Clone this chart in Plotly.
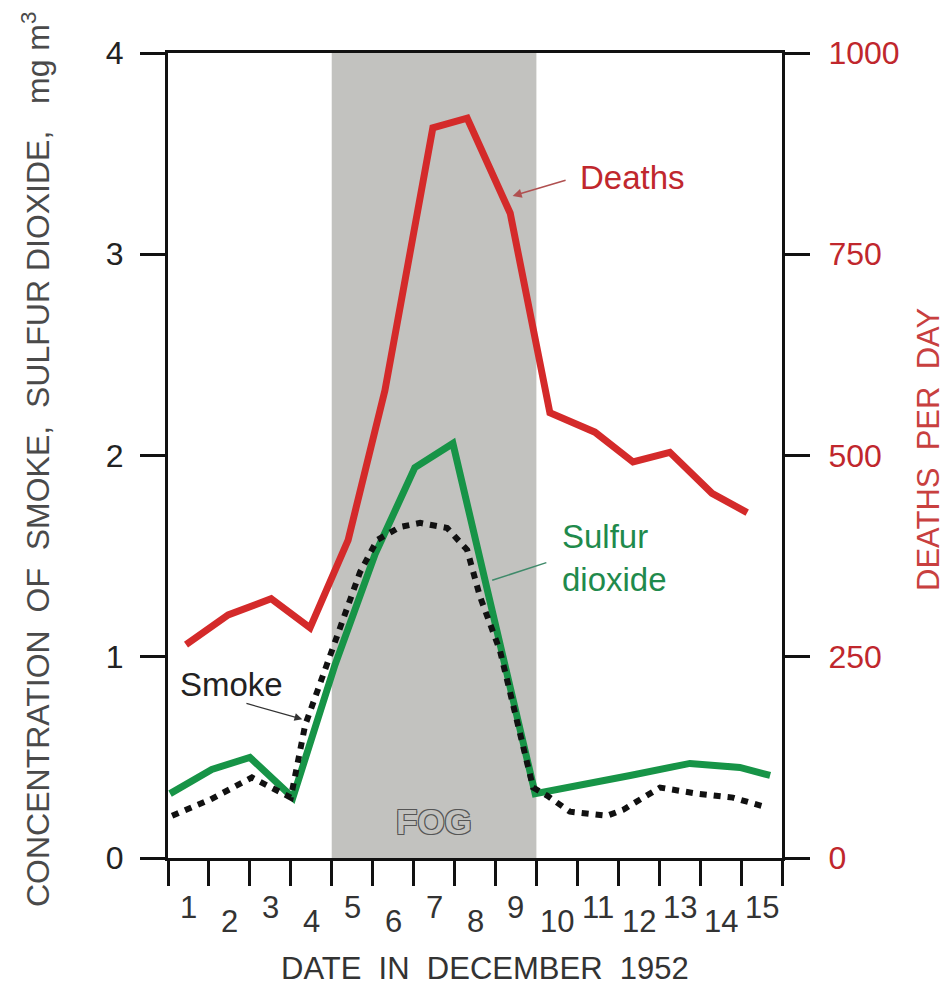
import plotly.graph_objects as go

# ---- data ----
days = list(range(1, 16))
day_labels = [str(d) for d in days]
day_edges = [d - 0.5 for d in range(1, 17)]
fog_start, fog_end = 4.5, 9.5

deaths_x = [0.94, 1.97, 3.02, 3.97, 4.90, 5.80, 6.97, 7.81, 8.86, 9.83, 10.93, 11.86, 12.76, 13.79, 14.65]
deaths = [265, 302, 322, 286, 395, 581, 907, 919, 801, 553, 529, 492, 504, 453, 429]

so2_x = [0.55, 1.57, 2.50, 3.55, 4.58, 5.56, 6.53, 7.46, 9.47, 10.57, 11.79, 13.25, 14.47, 15.21]
so2 = [0.32, 0.44, 0.50, 0.30, 0.96, 1.51, 1.94, 2.06, 0.32, 0.36, 0.41, 0.47, 0.45, 0.41]

smoke_x = [0.60, 1.53, 2.55, 3.50, 3.85, 4.51, 5.19, 5.61, 6.17, 6.66, 7.32, 7.81, 8.12, 8.61,
           9.42, 9.76, 10.32, 11.23, 11.62, 12.52, 13.42, 14.30, 15.16]
smoke = [0.21, 0.29, 0.40, 0.30, 0.66, 1.03, 1.42, 1.58, 1.645, 1.665, 1.64, 1.53, 1.30, 1.03,
         0.35, 0.31, 0.23, 0.21, 0.24, 0.35, 0.32, 0.30, 0.25]

conc_ticks = [0, 1, 2, 3, 4]
death_ticks = [0, 250, 500, 750, 1000]

RED = "#d42a2a"
RED_TXT = "#c0272d"
GREEN = "#179447"
GREEN_TXT = "#1f8a4c"
AX = "#111111"
FONT = "Liberation Sans, Arial, sans-serif"
NARROW = "Liberation Sans Narrow, Arial Narrow, sans-serif"

fig = go.Figure()
fig.add_trace(go.Scatter(x=deaths_x, y=deaths, yaxis="y2", mode="lines",
                         line=dict(color=RED, width=7), hoverinfo="skip"))
fig.add_trace(go.Scatter(x=so2_x, y=so2, mode="lines",
                         line=dict(color=GREEN, width=7), hoverinfo="skip"))
fig.add_trace(go.Scatter(x=smoke_x, y=smoke, mode="lines",
                         line=dict(color="#111111", width=6, dash="7px,7px"), hoverinfo="skip"))

fig.add_vrect(x0=fog_start, x1=fog_end, fillcolor="#c2c2bf", line_width=0, layer="below")

ann = []
for d, lab in zip(days, day_labels):
    ann.append(dict(x=d, xref="x", y=0, yref="paper", text=lab, showarrow=False,
                    xanchor="center", yanchor="middle", yshift=-49 if d % 2 == 1 else -63,
                    font=dict(family=NARROW, size=31, color="#333333")))

ann += [
    dict(x=(36 - 168) / 614, y=(858 - 460) / 805, xref="paper", yref="paper", showarrow=False,
         xanchor="center", yanchor="middle",
         text="CONCENTRATION\u00a0 OF\u00a0 SMOKE,\u00a0 SULFUR DIOXIDE,\u00a0\u00a0 mg m<sup>3</sup>",
         textangle=-90, font=dict(family=FONT, size=32, color="#4a4a4a")),
    dict(x=(928 - 168) / 614, y=(858 - 450) / 805, xref="paper", yref="paper", showarrow=False,
         xanchor="center", yanchor="middle",
         text="DEATHS\u00a0 PER\u00a0 DAY", textangle=-90,
         font=dict(family=FONT, size=31, color="#c8403f")),
    dict(x=(485 - 168) / 614, y=(858 - 968) / 805, xref="paper", yref="paper", showarrow=False,
         xanchor="center", yanchor="middle",
         text="DATE\u00a0 IN\u00a0 DECEMBER\u00a0 1952",
         font=dict(family=FONT, size=31, color="#333333")),
    # FOG label
    dict(x=7.0, y=0.18, xref="x", yref="y", showarrow=False, text="<b>FOG</b>",
         font=dict(family=FONT, size=35, color="#c2c2bf",
                   shadow="1px 1px 0 #555, -1px -1px 0 #555, 1px -1px 0 #555, -1px 1px 0 #555")),
    # Deaths label + arrow
    dict(x=10.52, y=3.38, xref="x", yref="y", showarrow=False, text="Deaths", xanchor="left",
         font=dict(family=FONT, size=33, color=RED_TXT)),
    dict(x=8.92, y=3.29, xref="x", yref="y", ax=10.25, ay=3.37, axref="x", ayref="y",
         text="", showarrow=True, arrowhead=2, arrowsize=1.2, arrowwidth=1.5, arrowcolor="#b05050"),
    # Sulfur dioxide label + line
    dict(x=10.08, y=1.49, xref="x", yref="y", showarrow=False, text="Sulfur<br>dioxide",
         xanchor="left", align="left",
         font=dict(family=FONT, size=33, color=GREEN_TXT)),
    dict(x=8.42, y=1.38, xref="x", yref="y", ax=9.78, ay=1.47, axref="x", ayref="y",
         text="", showarrow=True, arrowhead=0, arrowwidth=1.5, arrowcolor="#3f8a6a"),
    # Smoke label + arrow
    dict(x=0.74, y=0.86, xref="x", yref="y", showarrow=False, text="Smoke", xanchor="left",
         font=dict(family=FONT, size=33, color="#222222")),
    dict(x=3.78, y=0.69, xref="x", yref="y", ax=2.38, ay=0.77, axref="x", ayref="y",
         text="", showarrow=True, arrowhead=2, arrowsize=1.2, arrowwidth=1.3, arrowcolor="#333333"),
]

# page body has an 8px margin: compensate so the plot frame lands at x 168-782, y 53-858
fig.update_layout(
    width=940, height=980, autosize=False,
    margin=dict(l=160, r=166, t=45, b=130),
    plot_bgcolor="white", paper_bgcolor="white", showlegend=False,
    annotations=ann,
    xaxis=dict(range=[0.5, 15.5], tickvals=day_edges, ticktext=[""] * len(day_edges),
               ticks="outside", ticklen=25, tickwidth=3, tickcolor=AX,
               showline=True, linewidth=3, linecolor=AX, mirror=True,
               showgrid=False, zeroline=False),
    yaxis=dict(range=[0, 4], tickvals=conc_ticks, ticks="outside", ticklen=25, tickwidth=3,
               tickcolor=AX, showline=True, linewidth=3, linecolor=AX,
               showgrid=False, zeroline=False, ticklabelstandoff=10,
               tickfont=dict(family=FONT, size=32, color="#222222")),
    yaxis2=dict(range=[0, 1000], tickvals=death_ticks, overlaying="y", side="right",
                ticks="outside", ticklen=25, tickwidth=3, tickcolor=AX,
                showline=True, linewidth=3, linecolor=AX,
                showgrid=False, zeroline=False, ticklabelstandoff=12,
                tickfont=dict(family=FONT, size=32, color=RED_TXT)),
)

fig.write_html("out.html")
